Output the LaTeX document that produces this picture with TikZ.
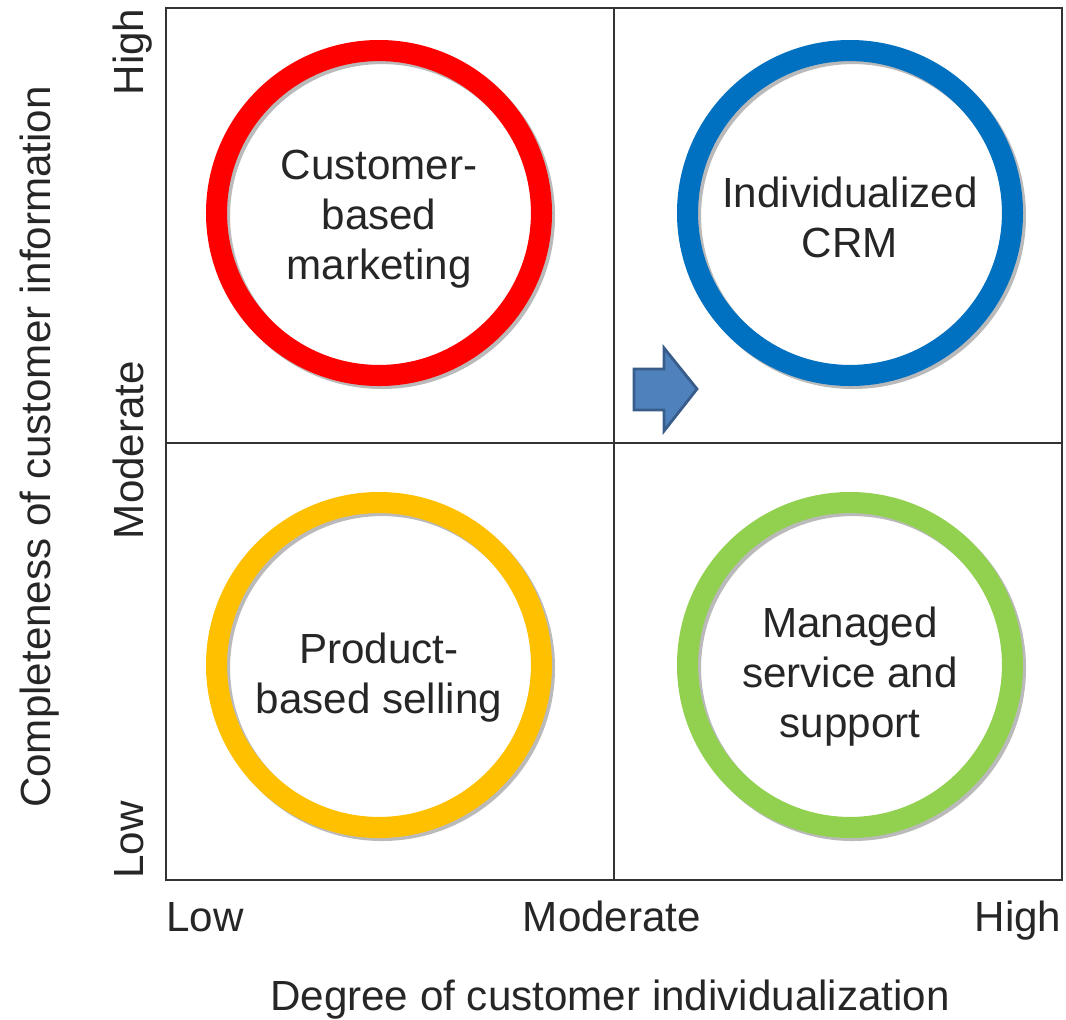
\documentclass[tikz,border=0pt]{standalone}
\usepackage{fontspec}
\setmainfont{Liberation Sans}
\usetikzlibrary{positioning}
\definecolor{ringred}{RGB}{255,0,0}
\definecolor{ringblue}{RGB}{0,112,192}
\definecolor{ringyellow}{RGB}{255,192,0}
\definecolor{ringgreen}{RGB}{146,208,80}
\definecolor{arrowfill}{RGB}{79,129,189}
\definecolor{arrowline}{RGB}{56,93,138}
\tikzstyle{grid}=[line width=0.9pt,draw=black!80]
\tikzstyle{ring}=[circle,draw,line width=12pt,minimum size=6.5cm,inner sep=0pt,
                  outer sep=0pt]
\tikzstyle{ringshadow}=[circle,draw=black!45,line width=12pt,minimum size=6.5cm,
                  inner sep=0pt,opacity=0.6]
\tikzstyle{ringtext}=[align=center,inner sep=0pt,text=black!85,
                  font=\fontsize{24pt}{28.5pt}\selectfont]
\tikzstyle{axislabel}=[font=\fontsize{24pt}{28pt}\selectfont,inner sep=0pt,
                  text=black!85,anchor=base]

\begin{document}
\begin{tikzpicture}[x=0.02cm,y=-0.02cm]
\def \boxl {166}
\def \boxr {1062}
\def \boxt {8}
\def \boxb {880}
\def \midx {614}
\def \midy {443}
\useasboundingbox (0,0) rectangle (1066,1019);

% quadrant frame
\draw[grid] (\boxl,\boxt) rectangle (\boxr,\boxb);
\draw[grid] (\midx,\boxt) -- (\midx,\boxb);
\draw[grid] (\boxl,\midy) -- (\boxr,\midy);

% rings, shadow first
\foreach \x/\y in {379/213, 850/213, 379/665, 850/665}
{
  \node[ringshadow] at (\x+3,\y+3) {};
}
\node[ring, draw=ringred] (cbm) at (379,213) {};
\node[ring, draw=ringblue] (icrm) at (850,213) {};
\node[ring, draw=ringyellow] (pbs) at (379,665) {};
\node[ring, draw=ringgreen] (mss) at (850,665) {};

\node[ringtext] (cbmtext) at (379,219) {Customer-\\based\\marketing};
\node[ringtext] (icrmtext) at (850,217) {Individualized\\CRM};
\node[ringtext] (pbstext) at (379,678) {Product-\\based selling};
\node[ringtext] (msstext) at (850,677) {Managed\\service and\\support};

% move towards individualized CRM
\filldraw[fill=arrowfill, draw=arrowline, line width=1.6pt, line join=miter]
  (634,369) -- (664,369) -- (664,348) -- (697,389) -- (664,431)
  -- (664,410) -- (634,410) -- cycle;

% horizontal axis
\node[axislabel] (xlow) at (205,931) {Low};
\node[axislabel] (xmod) at (612,931) {Moderate};
\node[axislabel] (xhigh) at (1018,931) {High};
\node[axislabel] (xtitle) at (610,1010) {Degree of customer individualization};

% vertical axis
\node[axislabel, rotate=90] (ylow) at (143,840) {Low};
\node[axislabel, rotate=90] (ymod) at (143,450) {Moderate};
\node[axislabel, rotate=90] (yhigh) at (143,52) {High};
\node[axislabel, rotate=90] (ytitle) at (51,447) {Completeness of customer information};
\end{tikzpicture}
\end{document}
